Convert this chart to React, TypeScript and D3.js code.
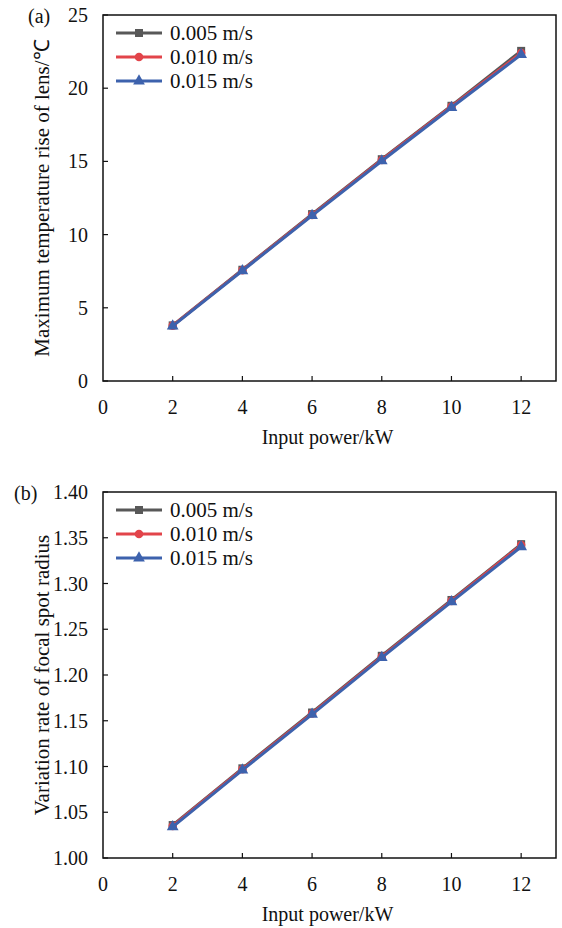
import React from "react";
import * as d3 from "d3";

// input power (kW)
const power = [2, 4, 6, 8, 10, 12];
const speeds = ["0.005 m/s", "0.010 m/s", "0.015 m/s"];

// (a) maximum temperature rise of lens
const tempRise005 = [3.8, 7.6, 11.4, 15.15, 18.8, 22.55];
const tempRise010 = [3.78, 7.57, 11.35, 15.1, 18.75, 22.4];
const tempRise015 = [3.75, 7.53, 11.3, 15.03, 18.68, 22.3];

// (b) variation rate of focal spot radius
const spot005 = [1.036, 1.098, 1.159, 1.221, 1.282, 1.343];
const spot010 = [1.035, 1.097, 1.158, 1.22, 1.281, 1.342];
const spot015 = [1.034, 1.096, 1.157, 1.219, 1.28, 1.34];

const xTicks = [0, 2, 4, 6, 8, 10, 12];
const tempTicks = [0, 5, 10, 15, 20, 25];
const spotTicks = [1.0, 1.05, 1.1, 1.15, 1.2, 1.25, 1.3, 1.35, 1.4];

const colors = ["#585858", "#e2444a", "#3d62ad"];
const font = "'Liberation Serif', 'Times New Roman', serif";

function Marker({ kind, x, y, color }: { kind: number; x: number; y: number; color: string }) {
  if (kind === 0) return <rect x={x - 4} y={y - 4} width={8} height={8} fill={color} />;
  if (kind === 1) return <circle cx={x} cy={y} r={4.3} fill={color} />;
  return <path d={d3.symbol(d3.symbolTriangle, 60)() || ""} transform={`translate(${x},${y})`} fill={color} />;
}

function Panel({ top, bottom, label, labelX, yDomain, yTicks, yFmt, series, yTitle }: any) {
  const left = 103;
  const right = 556;
  const x = d3.scaleLinear().domain([0, 13]).range([left, right]);
  const y = d3.scaleLinear().domain(yDomain).range([bottom, top]);
  const line = d3.line<number>().x((_, i) => x(power[i])).y(d => y(d));

  return (
    <g fontFamily={font} fill="#111">
      <rect x={left} y={top} width={right - left} height={bottom - top} fill="none" stroke="#111" strokeWidth={1.5} />
      {xTicks.map(t => (
        <g key={"x" + t}>
          {t > 0 && <line x1={x(t)} x2={x(t)} y1={bottom} y2={bottom - 5} stroke="#111" strokeWidth={1.2} />}
          <text x={x(t)} y={bottom + 33} textAnchor="middle" fontSize={20}>{t}</text>
        </g>
      ))}
      {yTicks.map((t: number) => (
        <g key={"y" + t}>
          <line x1={left} x2={left + 5} y1={y(t)} y2={y(t)} stroke="#111" strokeWidth={1.2} />
          <text x={88} y={y(t)} dy="0.35em" textAnchor="end" fontSize={20}>{yFmt(t)}</text>
        </g>
      ))}
      <text x={labelX} y={top + 1} fontSize={20} dy="0.35em">{label}</text>
      <text x={(left + right) / 2 - 2} y={bottom + 63} textAnchor="middle" fontSize={20}>Input power/kW</text>
      <text transform={`translate(49,${(top + bottom) / 2}) rotate(-90)`} textAnchor="middle" fontSize={21}>{yTitle}</text>
      {series.map((s: number[], k: number) => (
        <g key={"s" + k}>
          <path d={line(s) || ""} fill="none" stroke={colors[k]} strokeWidth={3} />
          {s.map((v, i) => <Marker key={i} kind={k} x={x(power[i])} y={y(v)} color={colors[k]} />)}
        </g>
      ))}
      {speeds.map((name, k) => {
        const ly = top + 18 + k * 24;
        return (
          <g key={name}>
            <line x1={116} x2={162} y1={ly} y2={ly} stroke={colors[k]} strokeWidth={3} />
            <Marker kind={k} x={139} y={ly} color={colors[k]} />
            <text x={170} y={ly} dy="0.35em" fontSize={21}>{name}</text>
          </g>
        );
      })}
    </g>
  );
}

export default function App() {
  return (
    <svg width={562} height={928} style={{ position: "absolute", left: 0, top: 0, background: "#fff" }}>
      <Panel top={15} bottom={381} label="(a)" labelX={28} yDomain={[0, 25]} yTicks={tempTicks} yFmt={(t: number) => String(t)}
        series={[tempRise005, tempRise010, tempRise015]} yTitle="Maximum temperature rise of lens/℃" />
      <Panel top={492} bottom={858} label="(b)" labelX={14} yDomain={[1.0, 1.4]} yTicks={spotTicks} yFmt={d3.format(".2f")}
        series={[spot005, spot010, spot015]} yTitle="Variation rate of focal spot radius" />
    </svg>
  );
}
